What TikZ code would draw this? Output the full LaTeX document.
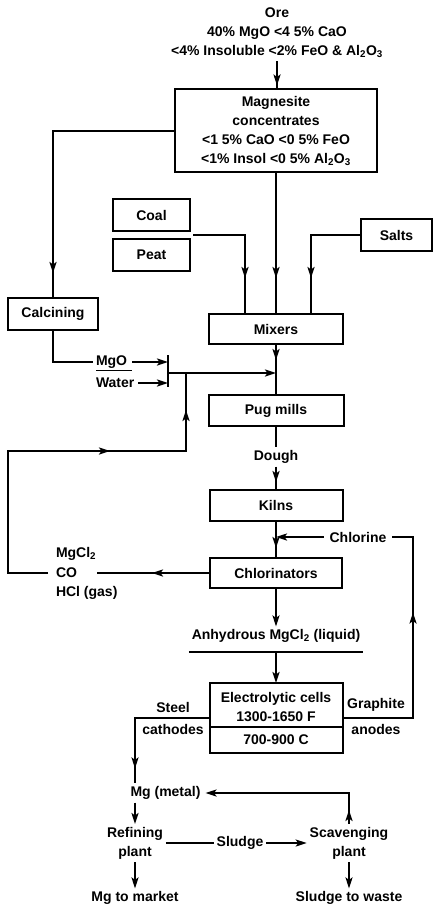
\documentclass[tikz,border=0pt]{standalone}
\usepackage{fontspec}
\setmainfont{Liberation Sans}
\usetikzlibrary{positioning,arrows.meta,decorations.markings}

\begin{document}
\begin{tikzpicture}[
    x=1pt,y=-1pt,
    >={Stealth[length=11pt,width=7pt,inset=2.5pt]},
    line width=2pt,
    every node/.style={font=\bfseries\fontsize{14}{19}\selectfont,inner sep=0pt,outer sep=0pt},
    box/.style={draw,rectangle,align=center},
    lbl/.style={align=center,inner sep=3pt},
    flowat/.style={postaction={decorate,decoration={markings,mark=at position #1 with {\arrow{>}}}}}
]
\useasboundingbox (0,0) rectangle (433,909);

% Ore and concentrates
\node[lbl] (ore) at (277,33) {Ore\\40\% MgO <4 5\% CaO\\<4\% Insoluble <2\% FeO \& Al\textsubscript{2}O\textsubscript{3}};
\node[box,minimum width=202pt,minimum height=83pt] (mag) at (276,131)
    {Magnesite\\concentrates\\<1 5\% CaO <0 5\% FeO\\<1\% Insol <0 5\% Al\textsubscript{2}O\textsubscript{3}};

% Feeds
\node[box,minimum width=90pt,minimum height=32pt] (calc) at (53,314) {Calcining};
\node[box,minimum width=77pt,minimum height=32pt] (coal) at (151.5,215) {Coal};
\node[box,minimum width=77pt,minimum height=32pt,below=8pt of coal] (peat) {Peat};
\node[box,minimum width=71pt,minimum height=31pt] (salts) at (396.5,235) {Salts};
\coordinate (fuel) at (193,235);

% Main line
\node[box,minimum width=134pt,minimum height=30pt] (mixers) at (276,329) {Mixers};
\node[box,minimum width=135pt,minimum height=31pt] (pug) at (276,410.5) {Pug mills};
\node[lbl] (dough) at (276,457) {Dough};
\node[box,minimum width=133pt,minimum height=31pt] (kilns) at (276,505.5) {Kilns};
\node[box,minimum width=132pt,minimum height=30pt] (chlor) at (276,573) {Chlorinators};
\node[lbl] (chlorine) at (358,537) {Chlorine};
\node[lbl] (anhyd) at (276,636) {Anhydrous MgCl\textsubscript{2} (liquid)};
\coordinate (ulmid) at ([yshift=-6pt]anhyd.south);

% Electrolytic cells
\node[box,minimum width=133pt,minimum height=70pt] (elec) at (276,718) {};
\node[align=center] (elecname) at (276,707) {Electrolytic cells\\1300-1650 F};
\node (electemp) at (276,740) {700-900 C};
\coordinate (split) at (276,727);
\node (steel) at (173,707) {Steel};
\node (cath) at (173,729) {cathodes};
\node (graph) at (376,705) {Graphite};
\node (anod) at (376,729) {anodes};
\coordinate (clturn) at (413,537);

% MgO and water
\node[anchor=west] (mgo) at (96,362) {MgO};
\node[anchor=west] (water) at (96,383) {Water};
\coordinate (bartop) at (168,355);
\coordinate (barbot) at (168,387);
\coordinate (mix) at (168,373);
\coordinate (ret) at (186,373);
\coordinate (retL) at (8,451);

% Gases
\node[anchor=west] (mgcl) at (56,554) {MgCl\textsubscript{2}};
\node[anchor=west] (co) at (56,573) {CO};
\node[anchor=west] (hcl) at (56,593) {HCl (gas)};

% Metal
\node[lbl] (mgmetal) at (165.5,793) {Mg (metal)};
\node[lbl] (refine) at (135,843) {Refining\\plant};
\node[lbl] (sludge) at (240,843) {Sludge};
\node[lbl] (scav) at (349,843) {Scavenging\\plant};
\node[lbl] (market) at (135,898) {Mg to market};
\node[lbl] (waste) at (349,898) {Sludge to waste};

% Connectors, top part
\draw[flowat=-4pt] (ore.south) -- (ore.south |- mag.north);
\draw[flowat=-25pt] (mag.west) -| (calc.north);
\draw[flowat=-36pt] (mag.south) -- (mixers.north);
\draw[flowat=-36pt] (fuel) -| ([xshift=-31pt]mixers.north);
\draw[flowat=-36pt] (salts.west) -| ([xshift=35pt]mixers.north);
\draw[flowat=16pt] (mixers.south) -- (pug.north);
\draw (calc.south) |- ([xshift=-3pt]mgo.west);
\draw[line width=1.2pt] ([yshift=-2pt]mgo.south west) -- ([xshift=5pt,yshift=-2pt]mgo.south east);
\draw[->] ([xshift=5pt]mgo.east) -- (mgo.east -| bartop);
\draw[->] ([xshift=4pt]water.east) -- (water.east -| bartop);
\draw (bartop) -- (barbot);
\draw[->] (mix) -- (mix -| mixers.south);
\draw[flowat=264pt,flowat=-37pt] ([xshift=-8pt]co.west) -| (retL) -| (ret);

% Connectors, middle part
\draw (pug.south) -- (dough.north);
\draw[flowat=-8pt] (dough.south) -- (kilns.north);
\draw[flowat=-10pt] (kilns.south) -- (chlor.north);
\draw[->] ([xshift=-3pt]chlorine.west) -- (chlorine.west -| kilns.south);
\draw[flowat=176pt] (elec.east) -| (clturn) -- ([xshift=3pt]chlorine.east);
\draw[flowat=58pt] (chlor.west) -- ([xshift=20pt]co.east);
\draw[->] (chlor.south) -- (anhyd.north);
\draw ([yshift=-6pt]anhyd.south west) -- ([yshift=-6pt]anhyd.south east);
\draw[->] (ulmid) -- (elec.north);
\draw (elec.west |- split) -- (elec.east |- split);

% Connectors, bottom part
\draw[flowat=-15pt] (elec.west) -| (mgmetal.north -| refine.north);
\draw[->,flowat=14pt] (scav.north) |- ([xshift=2pt]mgmetal.east);
\draw[->] (mgmetal.south -| refine.north) -- (refine.north);
\draw (refine.east) -- (sludge.west);
\draw[->] (sludge.east) -- (scav.west);
\draw[->] (refine.south) -- (market.north);
\draw[->] (scav.south) -- (waste.north);

\end{tikzpicture}
\end{document}
